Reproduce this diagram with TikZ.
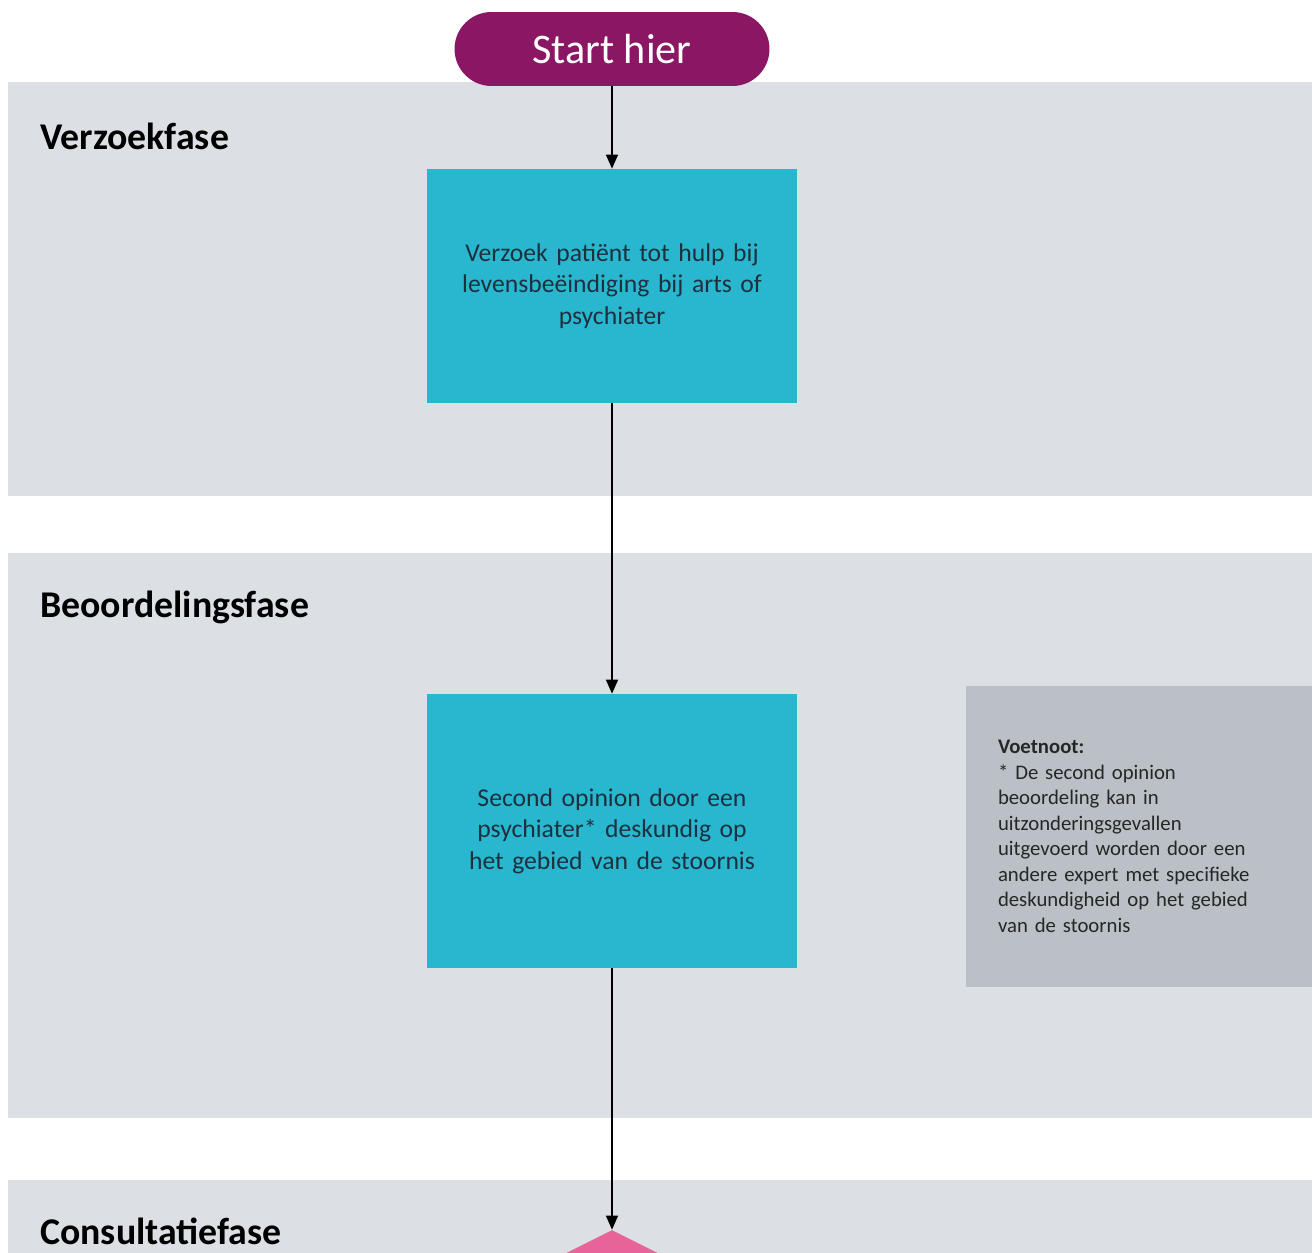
\documentclass[tikz,border=0pt]{standalone}
\usepackage{fontspec}
\setmainfont{Carlito}
\usepackage{tikz}
\usetikzlibrary{arrows.meta, positioning, shapes.geometric}
\definecolor{bandgray}{RGB}{220,224,228}
\definecolor{notegray}{RGB}{186,192,198}
\definecolor{startpurple}{RGB}{139,22,99}
\definecolor{stepcyan}{RGB}{41,183,207}
\definecolor{steptext}{RGB}{30,48,62}
\definecolor{decpink}{RGB}{232,100,152}

\begin{document}
\begin{tikzpicture}[x=0.02cm, y=-0.02cm,
    phase/.style={anchor=west, inner sep=0pt, font=\fontsize{21.5}{24}\selectfont\bfseries},
    stepbox/.style={draw=none, fill=stepcyan, text=steptext, align=center,
        minimum width=7.4cm, text width=7cm, inner sep=0pt,
        font=\fontsize{14.6}{18}\selectfont},
    flow/.style={thick, -{Triangle[length=0.28cm, width=0.24cm]}}]
  \useasboundingbox (0,0) rectangle (1312,1253);
  \clip (0,0) rectangle (1312,1253);
  \fill[white] (0,0) rectangle (1312,1253);
  % phase bands
  \foreach \ytop/\ybot in {82/496, 553/1118, 1180/1300}
    \fill[bandgray] (8,\ytop) rectangle (1320,\ybot);
  \node[phase] (verzoek) at (40,136) {Verzoekfase};
  \node[phase] (beoordeling) at (40,607) {Beoordelingsfase};
  \node[phase] (consultatie) at (40,1231) {Consultatiefase};

  \node[fill=startpurple, text=white, rounded corners=0.74cm,
        minimum width=6.3cm, minimum height=1.48cm,
        font=\fontsize{24}{26}\selectfont] (start) at (612,49) {Start hier};
  \node[stepbox, minimum height=4.68cm] (verzoekbox) at (612,286)
    {Verzoek patiënt tot hulp bij\\ levensbeëindiging bij arts of\\ psychiater};
  \node[stepbox, minimum height=5.48cm] (second) at (612,831)
    {Second opinion door een\\ psychiater* deskundig op\\ het gebied van de stoornis};
  \node[diamond, fill=decpink, minimum width=6cm, minimum height=3cm,
        inner sep=0pt] (consult) at (612,1305) {};

  \node[fill=notegray, minimum width=6.92cm, minimum height=6.02cm,
        text width=5.64cm, inner xsep=0.64cm, align=left, text=black!85,
        font=\fontsize{11.8}{14.5}\selectfont] (note) at (1139,836.5)
    {\textbf{Voetnoot:}\\ {*} De second opinion\\ beoordeling kan in\\
     uitzonderingsgevallen\\ uitgevoerd worden door een\\
     andere expert met specifieke\\ deskundigheid op het gebied\\ van de stoornis};

  \draw[flow] (start) -- (verzoekbox);
  \draw[flow] (verzoekbox) -- (second);
  \draw[flow] (second) -- (consult.north);
\end{tikzpicture}
\end{document}
